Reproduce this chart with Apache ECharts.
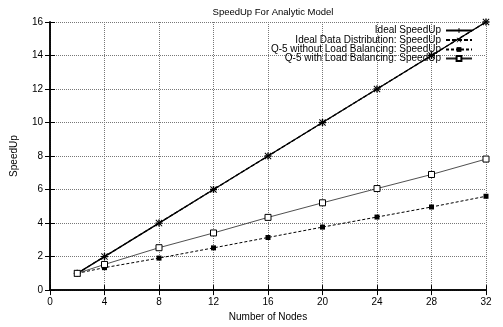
<!DOCTYPE html>
<html>
<head>
<meta charset="utf-8">
<script src="https://cdn.jsdelivr.net/npm/echarts@6/dist/echarts.min.js"></script>
<style>
  html, body { margin: 0; padding: 0; background: #fff; }
  #chart { width: 503px; height: 327px; }
</style>
</head>
<body>
<div id="chart"></div>
<script>
const nodes = [2, 4, 8, 12, 16, 20, 24, 28, 32];
const idealSpeedUp = [1, 2, 4, 6, 8, 10, 12, 14, 16];
const idealDataDist = [1, 2, 4, 6, 8, 10, 12, 14, 16];
const withoutLB = [1, 1.34, 1.91, 2.52, 3.14, 3.76, 4.36, 4.96, 5.6];
const withLB = [1, 1.53, 2.53, 3.41, 4.34, 5.21, 6.06, 6.9, 7.82];

const seriesNames = [
  "Ideal SpeedUp",
  "Ideal Data Distribution: SpeedUp",
  "Q-5 without Load Balancing: SpeedUp",
  "Q-5 with Load Balancing: SpeedUp"
];

const font = "Liberation Sans, Arial, sans-serif";
const plusPath = "path://M4,0H6V4H10V6H6V10H4V6H0V4H4Z";
const crossPath = "path://M1,0L5,4L9,0L10,1L6,5L10,9L9,10L5,6L1,10L0,9L4,5L0,1Z";

const pairs = (ys) => nodes.map((x, i) => [x, ys[i]]);

const chartDom = document.getElementById("chart");
const chart = echarts.init(chartDom);

// one legend per row so the texts line up on their right edge
const legendTops = [25.5, 35, 44.5, 53.5];
const legends = seriesNames.map((name, i) => ({
  data: [name],
  right: 30,
  top: legendTops[i],
  align: "right",
  itemWidth: 26,
  itemHeight: 6,
  itemGap: 0,
  padding: 0,
  textStyle: { fontFamily: font, fontSize: 10, color: "#000" }
}));

const axisCommon = {
  axisLine: { lineStyle: { color: "#000", width: 1.5 } },
  axisTick: { inside: true, length: 5, lineStyle: { color: "#000" } }
};

let option = {
  backgroundColor: "#fff",
  animation: false,
  title: {
    text: "SpeedUp For Analytic Model",
    left: 268,
    textAlign: "center",
    top: 2,
    textStyle: { fontFamily: font, fontSize: 9.5, fontWeight: "normal", color: "#000" }
  },
  legend: legends,
  grid: { left: 50, right: 17, top: 22, bottom: 30 },
  xAxis: [
    {
      type: "value", min: 0, max: 32, interval: 4,
      name: "Number of Nodes", nameLocation: "middle", nameGap: 21,
      nameTextStyle: { fontFamily: font, fontSize: 10, color: "#000" },
      ...axisCommon,
      axisLabel: { fontFamily: font, fontSize: 10, color: "#000", margin: 7 },
      splitLine: { show: true, lineStyle: { color: "#777", type: "dotted" } }
    },
    {
      type: "value", min: 0, max: 32, interval: 4, position: "top",
      ...axisCommon, axisLabel: { show: false }, splitLine: { show: false }
    }
  ],
  yAxis: [
    {
      type: "value", min: 0, max: 16, interval: 2,
      name: "SpeedUp", nameLocation: "middle", nameGap: 31,
      nameTextStyle: { fontFamily: font, fontSize: 10, color: "#000" },
      ...axisCommon,
      axisLabel: { fontFamily: font, fontSize: 10, color: "#000", margin: 7 },
      splitLine: { show: true, lineStyle: { color: "#777", type: "dotted" } }
    },
    {
      type: "value", min: 0, max: 16, interval: 2, position: "right",
      ...axisCommon, axisLabel: { show: false }, splitLine: { show: false }
    }
  ],
  series: [
    {
      name: seriesNames[0], type: "line", data: pairs(idealSpeedUp),
      symbol: plusPath, symbolSize: 7,
      lineStyle: { color: "#000", width: 1.3 },
      itemStyle: { color: "#000" }
    },
    {
      name: seriesNames[1], type: "line", data: pairs(idealDataDist),
      symbol: crossPath, symbolSize: 7,
      lineStyle: { color: "#000", width: 1.3, type: [4, 2] },
      itemStyle: { color: "#000" }
    },
    {
      name: seriesNames[2], type: "line", data: pairs(withoutLB),
      symbol: "rect", symbolSize: 5,
      lineStyle: { color: "#000", width: 1, type: [3, 2] },
      itemStyle: { color: "#000" }
    },
    {
      name: seriesNames[3], type: "line", data: pairs(withLB),
      symbol: "rect", symbolSize: 6,
      lineStyle: { color: "#222", width: 0.8 },
      itemStyle: { color: "#fff", borderColor: "#000", borderWidth: 1 }
    }
  ]
};

option && chart.setOption(option, true);
</script>
</body>
</html>
